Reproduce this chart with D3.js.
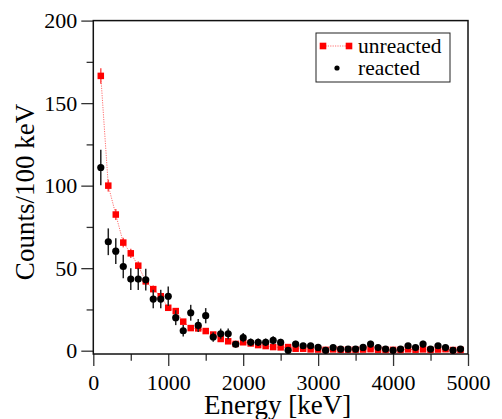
<!DOCTYPE html>
<html>
<head>
<meta charset="utf-8">
<script src="https://cdn.jsdelivr.net/npm/d3@7"></script>
<style>
  body { margin: 0; background: #fff; }
</style>
</head>
<body>
<svg id="chart"></svg>
<script>
// bin centres in keV
const energy = [100, 200, 300, 400, 500, 600, 700, 800, 900, 1000,
  1100, 1200, 1300, 1400, 1500, 1600, 1700, 1800, 1900, 2000,
  2100, 2200, 2300, 2400, 2500, 2600, 2700, 2800, 2900, 3000,
  3100, 3200, 3300, 3400, 3500, 3600, 3700, 3800, 3900, 4000,
  4100, 4200, 4300, 4400, 4500, 4600, 4700, 4800, 4900];

const unreacted = [166.5, 100, 82.5, 65.5, 59, 51.5, 42, 37.3, 33, 26,
  24, 17.6, 13.7, 13.5, 11.9, 9.8, 7.1, 5.7, 4.1, 5.1,
  4.4, 3.4, 2.8, 2.2, 2.0, 2.2, 1.2, 1.2, 0.8, 0.7,
  0.5, 0.8, 0.6, 0.6, 0.6, 0.7, 0.9, 0.6, 0.5, 0.5,
  0.5, 0.8, 0.6, 0.8, 0.5, 0.7, 0.9, 0.4, 0.5];
const unreactedErr = [4.7, 3.6, 3.3, 2.9, 2.8, 2.6, 2.4, 2.2, 2.1, 1.9,
  1.8, 1.5, 1.35, 1.3, 1.3, 1.1, 1.0, 0.9, 0.7, 0.8,
  0.8, 0.7, 0.6, 0.5, 0.5, 0.5, 0.4, 0.4, 0.3, 0.3,
  0.3, 0.3, 0.3, 0.3, 0.3, 0.3, 0.3, 0.3, 0.3, 0.3,
  0.3, 0.3, 0.3, 0.3, 0.3, 0.3, 0.3, 0.3, 0.3];

const reacted = [111, 66, 60.3, 51, 43.4, 43.4, 43, 31.3, 31.3, 33,
  20, 12.1, 23, 15.3, 21.2, 8.3, 10.2, 10.2, 3.9, 7.9,
  5.1, 5.1, 5.1, 6.2, 5.0, 0.2, 4.0, 3.0, 3.0, 2.0,
  0.2, 1.9, 1.0, 1.0, 1.0, 2.0, 4.0, 1.9, 1.0, 0.2,
  1.0, 3.0, 1.9, 4.0, 1.0, 3.0, 1.9, 0.2, 1.0];
const reactedErr = [10.8, 8.1, 7.8, 7.1, 6.6, 6.6, 6.6, 5.6, 5.6, 5.9,
  4.5, 3.5, 4.8, 3.9, 4.6, 2.9, 3.2, 3.2, 2.0, 2.8,
  2.3, 2.3, 2.3, 2.5, 2.2, 1.0, 2.0, 1.7, 1.7, 1.4,
  1.0, 1.4, 1.0, 1.0, 1.0, 1.4, 2.0, 1.4, 1.0, 1.0,
  1.0, 1.7, 1.4, 2.0, 1.0, 1.7, 1.4, 1.0, 1.0];

const xTicks = [0, 1000, 2000, 3000, 4000, 5000];
const xMinor = [500, 1500, 2500, 3500, 4500];
const yTicks = [0, 50, 100, 150, 200];
const yMinor = [25, 75, 125, 175];

const W = 502, H = 419;
const plotL = 93.3, plotR = 468, plotT = 20.6, plotB = 354;
const serif = '"Liberation Serif", "Times New Roman", serif';

const svg = d3.select('#chart')
  .attr('width', W)
  .attr('height', H)
  .style('background', '#fff')
  .style('font-family', serif);

const x = d3.scaleLinear().domain([0, 5000]).range([plotL, plotR]);
const y = d3.scaleLinear().domain([-2, 200]).range([plotB, plotT]);

// minor ticks
svg.append('g')
  .attr('transform', `translate(0,${plotB})`)
  .call(d3.axisBottom(x).tickValues(xMinor).tickSize(6.7).tickFormat('').tickSizeOuter(0))
  .call(g => g.select('.domain').remove());
svg.append('g')
  .attr('transform', `translate(${plotL},0)`)
  .call(d3.axisLeft(y).tickValues(yMinor).tickSize(6.7).tickFormat('').tickSizeOuter(0))
  .call(g => g.select('.domain').remove());

// major ticks + labels
const xAxis = svg.append('g')
  .attr('transform', `translate(0,${plotB})`)
  .call(d3.axisBottom(x).tickValues(xTicks).tickSize(12).tickFormat(d3.format('d')).tickSizeOuter(0))
  .call(g => g.select('.domain').remove());
xAxis.selectAll('text')
  .attr('y', 36).attr('dy', 0)
  .style('font-family', serif)
  .style('font-size', '22px').attr('fill', '#000');

const yAxis = svg.append('g')
  .attr('transform', `translate(${plotL},0)`)
  .call(d3.axisLeft(y).tickValues(yTicks).tickSize(12).tickSizeOuter(0))
  .call(g => g.select('.domain').remove());
yAxis.selectAll('text')
  .attr('x', -16)
  .style('font-family', serif)
  .style('font-size', '22px').attr('fill', '#000');

svg.selectAll('.tick line').attr('stroke', '#333').attr('stroke-width', 1.3);

// frame
svg.append('rect')
  .attr('x', plotL).attr('y', plotT)
  .attr('width', plotR - plotL).attr('height', plotB - plotT)
  .attr('fill', 'none').attr('stroke', '#111').attr('stroke-width', 1.5);

// unreacted: dotted line, error bars, squares
const line = d3.line()
  .x((d, i) => x(energy[i]))
  .y(d => y(d));
svg.append('path')
  .datum(unreacted)
  .attr('d', line)
  .attr('fill', 'none')
  .attr('stroke', '#ff7070')
  .attr('stroke-width', 1)
  .attr('stroke-dasharray', '1.2,1.2');

svg.selectAll('.uerr')
  .data(unreacted)
  .join('line')
  .attr('class', 'uerr')
  .attr('x1', (d, i) => x(energy[i]))
  .attr('x2', (d, i) => x(energy[i]))
  .attr('y1', (d, i) => y(d - unreactedErr[i]))
  .attr('y2', (d, i) => y(d + unreactedErr[i]))
  .attr('stroke', '#ff5050')
  .attr('stroke-width', 1.5);

const sq = 6.5;
svg.selectAll('.usq')
  .data(unreacted)
  .join('rect')
  .attr('class', 'usq')
  .attr('x', (d, i) => x(energy[i]) - sq / 2)
  .attr('y', d => y(d) - sq / 2)
  .attr('width', sq).attr('height', sq)
  .attr('fill', '#ff0000');

// reacted: error bars, dots
svg.selectAll('.rerr')
  .data(reacted)
  .join('line')
  .attr('class', 'rerr')
  .attr('x1', (d, i) => x(energy[i]))
  .attr('x2', (d, i) => x(energy[i]))
  .attr('y1', (d, i) => y(d - reactedErr[i]))
  .attr('y2', (d, i) => y(d + reactedErr[i]))
  .attr('stroke', '#222')
  .attr('stroke-width', 1.5);

svg.selectAll('.rdot')
  .data(reacted)
  .join('circle')
  .attr('class', 'rdot')
  .attr('cx', (d, i) => x(energy[i]))
  .attr('cy', d => y(d))
  .attr('r', 3.6)
  .attr('fill', '#000');

// axis titles
svg.append('text')
  .attr('x', (plotL + plotR) / 2 - 3)
  .attr('y', 414)
  .attr('text-anchor', 'middle')
  .style('font-size', '27px')
  .text('Energy [keV]');
svg.append('text')
  .attr('transform', 'translate(34,192) rotate(-90)')
  .attr('text-anchor', 'middle')
  .style('font-size', '27px')
  .text('Counts/100 keV');

// legend
const lg = svg.append('g');
lg.append('rect')
  .attr('x', 316).attr('y', 33)
  .attr('width', 134).attr('height', 49)
  .attr('fill', '#fff').attr('stroke', '#222').attr('stroke-width', 1);
lg.append('line')
  .attr('x1', 323).attr('x2', 349).attr('y1', 46).attr('y2', 46)
  .attr('stroke', '#ff7070').attr('stroke-dasharray', '1.2,1.2');
[323, 349].forEach(cx => {
  lg.append('rect')
    .attr('x', cx - 3.3).attr('y', 46 - 3.3)
    .attr('width', 6.6).attr('height', 6.6)
    .attr('fill', '#ff0000');
});
lg.append('circle').attr('cx', 337).attr('cy', 68).attr('r', 2.6).attr('fill', '#000');
lg.append('text').attr('x', 358).attr('y', 53).style('font-size', '21.5px').text('unreacted');
lg.append('text').attr('x', 358).attr('y', 75).style('font-size', '21.5px').text('reacted');
</script>
</body>
</html>
